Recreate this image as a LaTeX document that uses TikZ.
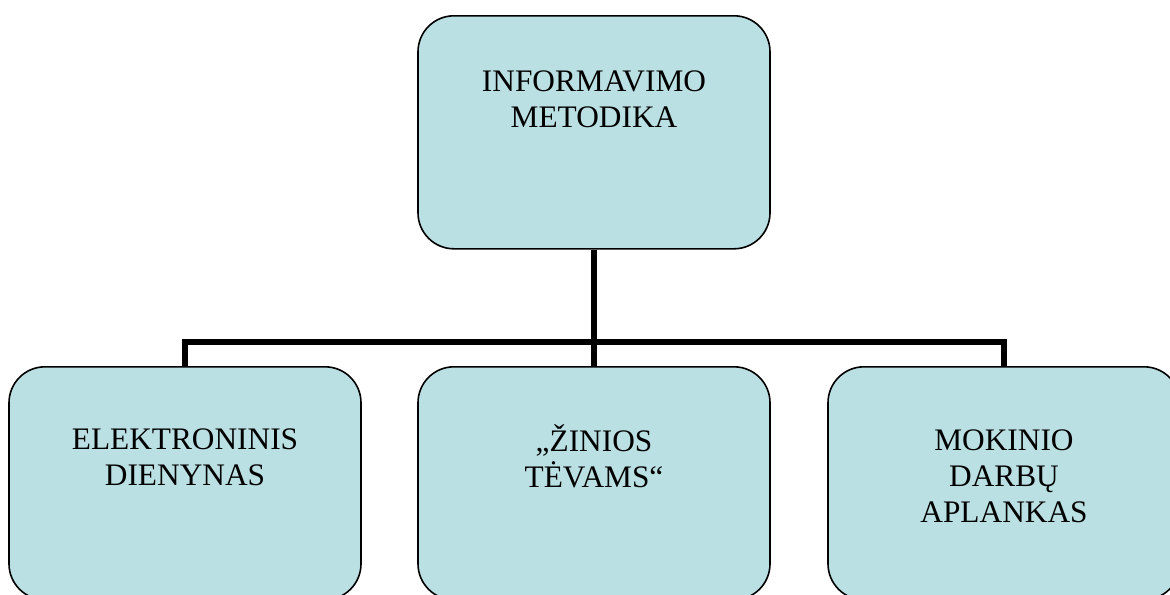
\documentclass[tikz,border=0pt]{standalone}
\usepackage{fontspec}
\setmainfont{Liberation Serif}
\definecolor{boxfill}{RGB}{187,224,227}
\begin{document}
\begin{tikzpicture}[x=0.75pt,y=-0.75pt,
  orgbox/.style={draw=black, line width=1.2pt, fill=boxfill, rounded corners=27pt,
    minimum width=264pt, minimum height=174.75pt, inner sep=0pt, anchor=north},
  boxtext/.style={anchor=base, inner sep=0pt, text width=240pt, align=center,
    font=\fontsize{23.5pt}{27pt}\selectfont},
  link/.style={line width=3.8pt, draw=black}]
\useasboundingbox (0,0) rectangle (1170,594);
\node[orgbox] (top) at (594,15) {};
\node[orgbox] (left) at (185,366) {};
\node[orgbox] (mid) at (594,366) {};
\node[orgbox] (right) at (1004,366) {};
\node[boxtext] (ttop) at (594,91.5) {INFORMAVIMO\\METODIKA};
\node[boxtext] (tleft) at (185,449.5) {ELEKTRONINIS\\DIENYNAS};
\node[boxtext] (tmid) at (594,451) {„ŽINIOS\\TĖVAMS“};
\node[boxtext] (tright) at (1004,450) {MOKINIO\\DARBŲ\\APLANKAS};
\coordinate (bus) at (594,342);
\draw[link] (top.south) -- (mid.north);
\draw[link] (left.north) |- (bus) -| (right.north);
\end{tikzpicture}
\end{document}
